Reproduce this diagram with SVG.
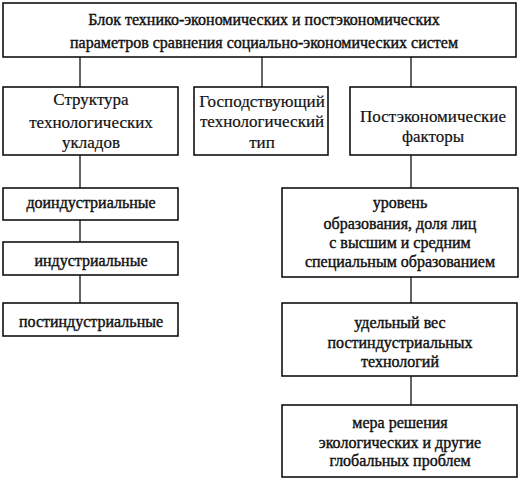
<svg xmlns="http://www.w3.org/2000/svg" width="519" height="479" viewBox="0 0 519 479">
<style>
rect{fill:#fff;stroke:#111;stroke-width:1.6}
line{stroke:#111;stroke-width:1.3}
text{font-family:"Liberation Serif","Times New Roman",serif;fill:#111;text-anchor:middle;stroke:#111;stroke-width:0.4}
.t{font-size:16px}
.h{font-size:17px;stroke-width:0.2}
.s{font-size:16px}
</style>
<rect x="0" y="0" width="519" height="479" style="fill:#fff;stroke:none"/>
<g id="connectors">
<line x1="80" y1="57" x2="80" y2="87"/>
<line x1="262" y1="57" x2="262" y2="87"/>
<line x1="411" y1="57" x2="411" y2="87"/>
<line x1="80" y1="155" x2="80" y2="188"/>
<line x1="80" y1="220" x2="80" y2="242"/>
<line x1="80" y1="275" x2="80" y2="303"/>
<line x1="411" y1="155" x2="411" y2="188"/>
<line x1="411" y1="277" x2="411" y2="303"/>
<line x1="411" y1="376" x2="411" y2="405"/>
</g>
<g id="top">
<rect x="3" y="3" width="513" height="54"/>
<text class="t" x="264" y="25">Блок технико-экономических и постэкономических</text>
<text class="t" x="264" y="48">параметров сравнения социально-экономических систем</text>
</g>
<g id="struct">
<rect x="3" y="87" width="175" height="68"/>
<text class="h" x="91" y="105">Структура</text>
<text class="h" x="91" y="128">технологических</text>
<text class="h" x="91" y="148">укладов</text>
</g>
<g id="gosp">
<rect x="194" y="87" width="134" height="68"/>
<text class="h" x="262" y="107">Господствующий</text>
<text class="h" x="262" y="127">технологический</text>
<text class="h" x="262" y="148">тип</text>
</g>
<g id="postek">
<rect x="350" y="87" width="166" height="68"/>
<text class="h" x="433" y="122">Постэкономические</text>
<text class="h" x="433" y="142">факторы</text>
</g>
<g id="doind">
<rect x="3" y="188" width="175" height="32"/>
<text class="s" x="91" y="208">доиндустриальные</text>
</g>
<g id="ind">
<rect x="3" y="242" width="175" height="33"/>
<text class="s" x="91" y="266">индустриальные</text>
</g>
<g id="postind">
<rect x="3" y="303" width="175" height="33"/>
<text class="s" x="91" y="327">постиндустриальные</text>
</g>
<g id="uroven">
<rect x="282" y="188" width="236" height="89"/>
<text class="s" x="400" y="208">уровень</text>
<text class="s" x="400" y="229">образования, доля лиц</text>
<text class="s" x="400" y="248">с высшим и средним</text>
<text class="s" x="400" y="267">специальным образованием</text>
</g>
<g id="udel">
<rect x="282" y="303" width="235" height="73"/>
<text class="s" x="400" y="328">удельный вес</text>
<text class="s" x="400" y="348">постиндустриальных</text>
<text class="s" x="400" y="367">технологий</text>
</g>
<g id="mera">
<rect x="282" y="405" width="235" height="72"/>
<text class="s" x="400" y="428">мера решения</text>
<text class="s" x="400" y="448">экологических и другие</text>
<text class="s" x="400" y="466">глобальных проблем</text>
</g>
</svg>
